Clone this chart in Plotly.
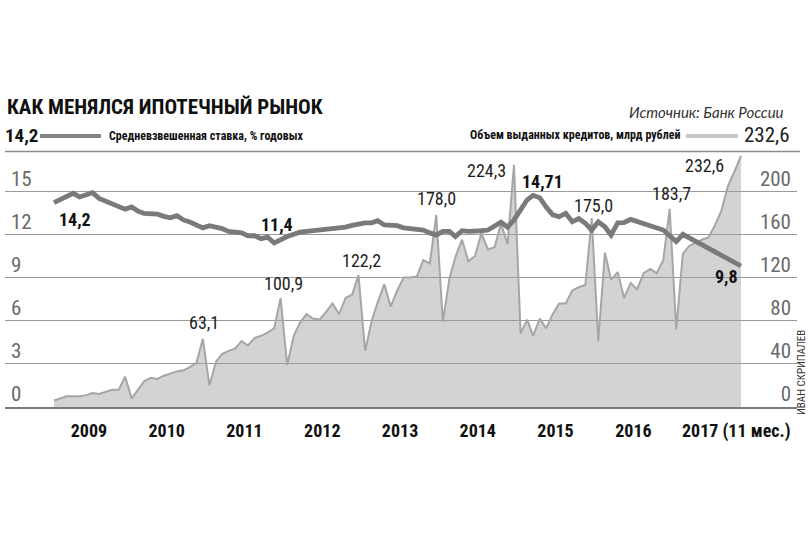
import plotly.graph_objects as go
import pandas as pd

# ---------------- data ----------------
months = pd.date_range("2009-01-01", "2017-11-01", freq="MS")

# Объем выданных ипотечных кредитов, млрд рублей (по месяцам)
credit_2009 = [6, 8, 10, 10, 10, 11, 13, 12, 14, 16, 16, 28]
credit_2010 = [8, 16, 24, 27, 26, 29, 31, 33, 34, 37, 41, 63.1]
credit_2011 = [20, 42, 49, 52, 54, 61, 57, 64, 66, 69, 73, 100.9]
credit_2012 = [39, 66, 78, 86, 82, 81, 88, 96, 86, 101, 104, 122.2]
credit_2013 = [52, 80, 97, 114, 93, 108, 120, 120, 121, 136, 133, 178.0]
credit_2014 = [79, 119, 139, 155, 135, 140, 161, 146, 148, 170, 151, 224.3]
credit_2015 = [68, 81, 66, 82, 73, 86, 96, 96, 108, 111, 113, 175.0]
credit_2016 = [61, 143, 118, 125, 101, 115, 109, 124, 128, 124, 136, 183.7]
credit_2017 = [72, 142, 149, 152, 155, 157, 168, 182, 205, 218, 232.6]
credit = (credit_2009 + credit_2010 + credit_2011 + credit_2012 + credit_2013
          + credit_2014 + credit_2015 + credit_2016 + credit_2017)

# Средневзвешенная ставка, % годовых (None — нет данных)
rate_2009 = [14.2, 14.4, 14.6, 14.85, 14.6, 14.75, 14.9, 14.5, 14.3, 14.1, 13.9, 13.75]
rate_2010 = [13.9, 13.6, 13.45, 13.4, 13.4, 13.25, 13.15, 13.3, 13.0, 12.85, 12.65, 12.45]
rate_2011 = [12.6, 12.5, 12.4, 12.2, 12.15, 12.1, 11.9, 11.9, 11.7, 11.8, 11.4, 11.65]
rate_2012 = [11.85, 12.0, 12.15, 12.2, 12.25, 12.3, 12.33, 12.37, 12.42, 12.5, 12.62, 12.75]
rate_2013 = [12.8, 12.8, 12.95, 12.65, 12.65, 12.6, 12.45, 12.41, 12.41, 12.3, 12.1, 11.95]
rate_2014 = [12.2, 12.2, 11.85, 12.25, 12.2, 12.2, 12.25, 12.3, 12.55, 12.85, 12.5, 13.0]
rate_2015 = [13.7, 14.4, 14.71, 14.55, 13.9, 13.35, 13.22, 13.46, 12.87, 13.1, 12.76, 12.3]
rate_2016 = [12.87, 12.53, 11.95, 12.8, 12.82, 13.04, None, None, None, None, 12.3, None]
rate_2017 = [11.5, 12.0, None, None, None, None, None, None, None, None, 9.8]
rate = (rate_2009 + rate_2010 + rate_2011 + rate_2012 + rate_2013
        + rate_2014 + rate_2015 + rate_2016 + rate_2017)

year_tick_dates = ["2009-06-14", "2010-06-14", "2011-06-14", "2012-06-14", "2013-06-14",
                   "2014-06-14", "2015-06-14", "2016-06-14", "2017-10-10"]
year_tick_text = ["2009", "2010", "2011", "2012", "2013", "2014", "2015", "2016", "2017 (11 мес.)"]

rate_ticks = [0, 3, 6, 9, 12, 15]
credit_ticks = [0, 40, 80, 120, 160, 200]

credit_label_idx = [23, 35, 47, 59, 71, 83, 95, 106]
rate_label_idx = [0, 34, 74, 106]

title_text = "КАК МЕНЯЛСЯ ИПОТЕЧНЫЙ РЫНОК"
source_text = "Источник: Банк России"
rate_name = "Средневзвешенная ставка, % годовых"
credit_name = "Объем выданных кредитов, млрд рублей"
author_text = "ИВАН СКРИПАЛЕВ"

# ---------------- style ----------------
W, H = 808, 539
PL, PR, PT, PB = 5, 797, 148, 407
NARROW = "Liberation Sans Narrow, Roboto Condensed, DejaVu Sans Condensed, Arial Narrow, sans-serif"


def px(x):
    return (x - PL) / (PR - PL)


def py(y):
    return (PB - y) / (PB - PT)


def fmt(v):
    return ("%g" % v).replace(".", ",")


fig = go.Figure()

fig.add_trace(go.Scatter(
    x=months, y=credit, yaxis="y", mode="lines",
    line=dict(color="#a6a6a6", width=2),
    fill="tozeroy", fillcolor="rgba(157,157,157,0.45)",
    name=credit_name, showlegend=False, hoverinfo="skip"))

fig.add_trace(go.Scatter(
    x=months, y=rate, yaxis="y2", mode="lines", connectgaps=True,
    line=dict(color="#7a7a7a", width=4.8),
    name=rate_name, showlegend=False, hoverinfo="skip"))

annotations = []

credit_shift = [(1, 16), (3, 15), (3, 15), (0, 16), (-27, -6), (2, 13), (2, 15), (-36, -10)]
for i, (dx, dy) in zip(credit_label_idx, credit_shift):
    annotations.append(dict(
        x=months[i], y=credit[i], xref="x", yref="y",
        text=("%.1f" % credit[i]).replace(".", ","), showarrow=False,
        xshift=dx, yshift=dy, font=dict(family=NARROW, size=18, color="#1e1e1e")))

rate_shift = [(21, -17), (3, 18), (9, 14), (-14, -11)]
for i, (dx, dy) in zip(rate_label_idx, rate_shift):
    annotations.append(dict(
        x=months[i], y=rate[i], xref="x", yref="y2",
        text="<b>" + fmt(rate[i]) + "</b>", showarrow=False,
        xshift=dx, yshift=dy, font=dict(family=NARROW, size=18, color="#111111")))

# header
annotations += [
    dict(x=px(5), y=py(107), xref="paper", yref="paper", xanchor="left", yanchor="middle",
         text="<b>" + title_text + "</b>", showarrow=False,
         font=dict(family=NARROW, size=21, color="#111111")),
    dict(x=px(786), y=py(112), xref="paper", yref="paper", xanchor="right", yanchor="middle",
         text="<i>" + source_text + "</i>", showarrow=False,
         font=dict(family="Lato, Liberation Sans, sans-serif", size=15, color="#333333")),
    dict(x=px(3), y=py(135), xref="paper", yref="paper", xanchor="left", yanchor="middle",
         text="<b>" + fmt(rate[0]) + "</b>", showarrow=False,
         font=dict(family=NARROW, size=19, color="#111111")),
    dict(x=px(107), y=py(136), xref="paper", yref="paper", xanchor="left", yanchor="middle",
         text="<b>" + rate_name + "</b>", showarrow=False,
         font=dict(family=NARROW, size=12, color="#111111")),
    dict(x=px(682), y=py(135), xref="paper", yref="paper", xanchor="right", yanchor="middle",
         text="<b>" + credit_name + "</b>", showarrow=False,
         font=dict(family=NARROW, size=12, color="#111111")),
    dict(x=px(792), y=py(135), xref="paper", yref="paper", xanchor="right", yanchor="middle",
         text=fmt(credit[-1]), showarrow=False,
         font=dict(family=NARROW, size=21, color="#222222")),
    dict(x=px(801), y=py(372), xref="paper", yref="paper", xanchor="center", yanchor="middle",
         text=author_text, textangle=-90, showarrow=False,
         font=dict(family=NARROW, size=11, color="#333333")),
]

shapes = [
    dict(type="line", xref="paper", yref="paper", x0=px(40), x1=px(101), y0=py(136), y1=py(136),
         line=dict(color="#858585", width=4)),
    dict(type="line", xref="paper", yref="paper", x0=px(686), x1=px(738), y0=py(136), y1=py(136),
         line=dict(color="#c9c9c9", width=4)),
    dict(type="line", xref="paper", yref="paper", x0=px(5), x1=px(800), y0=py(151.5), y1=py(151.5),
         line=dict(color="#8c8c8c", width=1.5)),
]

fig.update_layout(
    width=W, height=H,
    margin=dict(l=PL, r=W - PR, t=PT, b=H - PB, pad=0),
    paper_bgcolor="white", plot_bgcolor="white",
    showlegend=False,
    annotations=annotations, shapes=shapes,
    xaxis=dict(
        type="date", range=["2008-05-16", "2018-07-22"],
        tickvals=year_tick_dates, ticktext=["<b>" + t + "</b>" for t in year_tick_text],
        tickfont=dict(family=NARROW, size=18, color="#111111"),
        showgrid=False, zeroline=False, ticks="", ticklabelstandoff=6,
        showline=True, linecolor="#7a7a7a", linewidth=2,
    ),
    yaxis=dict(
        range=[0, 240], tickvals=credit_ticks, side="right",
        showgrid=True, gridcolor="#9a9a9a", gridwidth=1.3, zeroline=False,
        ticklabelposition="inside", ticklabelshift=-13, ticklabelstandoff=3,
        ticklabeloverflow="allow",
        tickfont=dict(family=NARROW, size=21, color="#6a6a6a"), ticks="",
    ),
    yaxis2=dict(
        range=[0, 18], tickvals=rate_ticks, side="left", overlaying="y",
        showgrid=False, zeroline=False,
        ticklabelposition="inside", ticklabelshift=-13, ticklabelstandoff=3,
        ticklabeloverflow="allow",
        tickfont=dict(family=NARROW, size=21, color="#6a6a6a"), ticks="",
    ),
)

fig.write_html("out.html", config={"displayModeBar": False},
               post_script="document.body.style.margin='0';document.body.style.overflow='hidden';")
